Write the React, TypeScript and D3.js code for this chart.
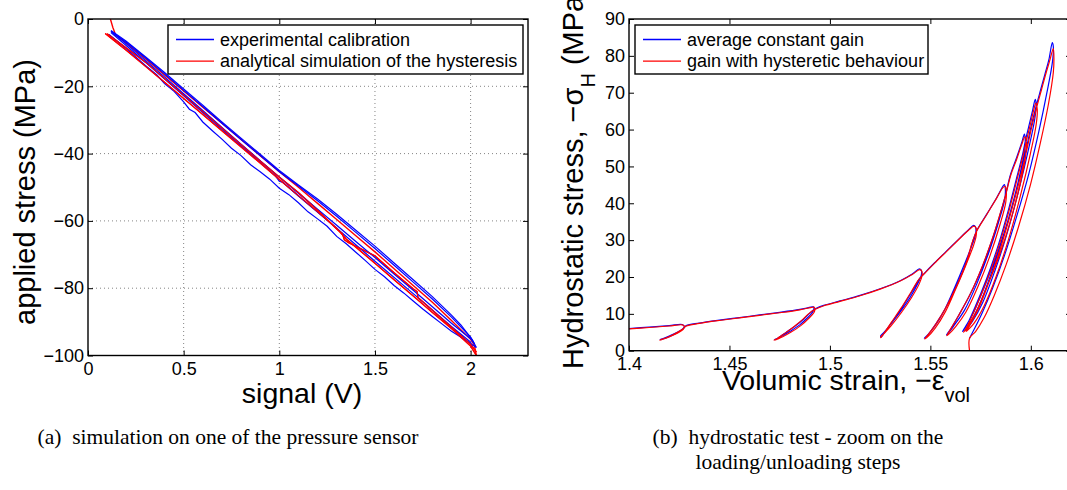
import * as d3 from 'd3';

import { useCallback } from 'react';

type Pt = [number, number];

// (a) pressure sensor: signal (V) against applied stress (MPa)
const signalTicks = [0, 0.5, 1, 1.5, 2];
const stressTicks = [0, -20, -40, -60, -80, -100];
const legendA = ['experimental calibration', 'analytical simulation of the hysteresis'];

const calibLoad1: Pt[] = [
  [0.11, -4.6], [0.2, -8.8], [0.3, -13.8], [0.36, -16.6], [0.4, -19.2], [0.45, -21.5], [0.5, -24.6],
  [0.53, -26.8], [0.56, -27.8], [0.6, -30.6], [0.65, -33.2], [0.7, -35.7], [0.75, -38.4], [0.8, -40.6],
  [0.85, -43.3], [0.9, -45.4], [0.95, -47.6], [1.0, -50.3], [1.05, -52.2], [1.1, -54.6], [1.15, -57.3],
  [1.2, -59.4], [1.25, -61.6], [1.3, -64.6], [1.35, -66.8], [1.4, -69.3], [1.45, -71.8], [1.5, -74.4],
  [1.55, -76.6], [1.6, -79.2], [1.65, -81.4], [1.7, -83.8], [1.75, -86.2], [1.8, -88.4], [1.85, -90.6],
  [1.9, -92.8], [1.95, -94.6], [2.0, -96.4], [2.03, -97.6],
];
const calibUnload1: Pt[] = [
  [2.03, -97.6], [2.01, -95.4], [1.95, -91.0], [1.9, -88.0], [1.8, -82.5], [1.7, -77.5], [1.6, -72.5],
  [1.5, -67.5], [1.4, -62.8], [1.3, -58.0], [1.2, -53.5], [1.1, -49.3], [1.0, -45.0], [0.9, -40.2],
  [0.8, -35.4], [0.7, -30.6], [0.6, -25.6], [0.5, -20.8], [0.4, -15.9], [0.3, -11.2], [0.2, -6.6], [0.12, -3.4],
];
const calibLoad2: Pt[] = [
  [0.12, -3.6], [0.2, -7.4], [0.3, -12.3], [0.4, -17.2], [0.5, -22.2], [0.6, -27.2], [0.7, -32.2],
  [0.8, -37.2], [0.9, -42.1], [1.0, -47.0], [1.1, -51.8], [1.2, -56.5], [1.3, -61.3], [1.4, -66.1],
  [1.5, -70.9], [1.6, -75.8], [1.7, -80.6], [1.8, -85.5], [1.9, -90.4], [2.0, -95.0], [2.02, -96.6],
];
const calibUnload2: Pt[] = [
  [2.02, -96.6], [2.0, -94.5], [1.9, -88.6], [1.8, -83.2], [1.7, -78.2], [1.6, -73.2], [1.5, -68.2],
  [1.4, -63.4], [1.3, -58.6], [1.2, -54.0], [1.1, -49.6], [1.0, -45.4], [0.9, -40.6], [0.8, -35.8],
  [0.7, -31.0], [0.6, -26.0], [0.5, -21.2], [0.4, -16.3], [0.3, -11.5], [0.2, -6.9], [0.12, -3.7],
];
const calibLoad3: Pt[] = [
  [0.12, -4.0], [0.3, -12.8], [0.5, -22.8], [0.7, -32.8], [0.9, -42.6], [0.98, -46.6], [1.0, -48.2],
  [1.02, -48.6], [1.1, -52.6], [1.3, -62.2], [1.5, -72.0], [1.7, -81.6], [1.9, -91.4], [2.0, -96.0],
  [2.005, -97.2], [2.01, -96.8],
];

const simLoad1: Pt[] = [
  [0.09, -4.3], [0.2, -9.3], [0.3, -14.0], [0.4, -18.8], [0.5, -23.6], [0.6, -28.4], [0.7, -33.2],
  [0.8, -38.0], [0.9, -42.8], [1.0, -47.7], [1.1, -52.5], [1.2, -57.3], [1.3, -62.2], [1.35, -65.4],
  [1.4, -67.8], [1.5, -72.6], [1.6, -77.5], [1.7, -82.3], [1.8, -87.2], [1.9, -92.0], [2.0, -97.2], [2.03, -100],
];
const simUnload1: Pt[] = [
  [2.03, -100], [2.02, -97.0], [2.0, -95.2], [1.95, -92.4], [1.9, -89.6], [1.8, -84.2], [1.7, -79.2],
  [1.6, -74.2], [1.5, -69.2], [1.4, -64.4], [1.3, -59.6], [1.2, -54.8], [1.1, -50.0], [1.0, -45.4],
  [0.9, -40.6], [0.8, -35.8], [0.7, -31.0], [0.6, -26.2], [0.5, -21.4], [0.4, -16.6], [0.3, -11.8],
  [0.2, -7.2], [0.145, -4.8], [0.13, -2.5], [0.117, 0],
];
const simLoad2: Pt[] = [
  [0.1, -4.4], [0.3, -12.8], [0.5, -22.6], [0.7, -32.4], [0.9, -42.2], [1.0, -47.0], [1.1, -51.6],
  [1.2, -56.8], [1.3, -62.4], [1.33, -63.8], [1.34, -65.6], [1.36, -66.4], [1.5, -70.4], [1.6, -75.4],
  [1.7, -80.2], [1.72, -81.0], [1.725, -82.8], [1.75, -84.0], [1.9, -91.6], [2.0, -96.6], [2.03, -99.0],
];

// (b) hydrostatic test: volumic strain against hydrostatic stress (MPa)
const strainTicks = [1.4, 1.45, 1.5, 1.55, 1.6];
const hydroTicks = [0, 10, 20, 30, 40, 50, 60, 70, 80, 90];
const legendB = ['average constant gain', 'gain with hysteretic behaviour'];

const constantGain: Pt[] = [
  [1.4, 6.0], [1.41, 6.4], [1.42, 6.8], [1.4265, 7.1], [1.4275, 6.6], [1.4268, 5.9], [1.424, 5.0],
  [1.42, 4.0], [1.417, 3.3], [1.4155, 3.0], [1.4165, 3.1], [1.42, 3.8], [1.424, 4.9], [1.427, 6.0], [1.4285, 6.8],
  [1.435, 7.5], [1.445, 8.3], [1.455, 9.0], [1.465, 9.7], [1.475, 10.4], [1.485, 11.2], [1.4905, 11.8],
  [1.4918, 11.9], [1.492, 11.2], [1.4915, 10.5], [1.489, 9.0], [1.485, 7.0], [1.48, 5.2], [1.476, 3.9],
  [1.473, 3.1], [1.4725, 3.0], [1.474, 3.4], [1.478, 4.9], [1.483, 6.8], [1.487, 8.6], [1.49, 10.2], [1.4925, 11.3],
  [1.497, 12.3], [1.505, 13.5], [1.515, 15.0], [1.525, 16.8], [1.535, 19.0], [1.541, 20.8], [1.5445, 22.2],
  [1.5455, 21.8], [1.5455, 20.5], [1.544, 18.5], [1.54, 14.5], [1.535, 10.5], [1.53, 7.0], [1.527, 5.0],
  [1.5252, 4.0], [1.5255, 3.7], [1.527, 4.8], [1.531, 7.8], [1.536, 11.8], [1.541, 16.2], [1.5445, 19.5], [1.547, 21.0],
  [1.552, 23.8], [1.558, 27.0], [1.564, 30.2], [1.569, 32.8], [1.5715, 34.0], [1.5725, 33.5], [1.5725, 31.5],
  [1.571, 29.0], [1.567, 23.5], [1.562, 17.0], [1.557, 11.0], [1.552, 6.5], [1.548, 3.9], [1.547, 3.4],
  [1.549, 4.5], [1.553, 7.5], [1.558, 12.0], [1.563, 17.5], [1.568, 24.0], [1.571, 29.5], [1.573, 32.5],
  [1.578, 37.0], [1.583, 41.5], [1.586, 44.5], [1.5868, 45.1], [1.5873, 44.0], [1.587, 41.0], [1.584, 35.0],
  [1.579, 26.5], [1.573, 18.0], [1.567, 11.0], [1.562, 7.0], [1.559, 4.8], [1.558, 4.3], [1.56, 5.8],
  [1.564, 9.5], [1.57, 15.5], [1.576, 23.0], [1.581, 30.5], [1.585, 37.5], [1.5875, 42.5],
  [1.59, 48.0], [1.593, 52.5], [1.5955, 56.5], [1.5968, 58.8], [1.5972, 57.5], [1.5968, 54.0], [1.594, 46.5],
  [1.589, 36.0], [1.583, 26.0], [1.577, 17.5], [1.572, 11.0], [1.568, 7.0], [1.566, 5.2], [1.568, 6.8],
  [1.572, 11.5], [1.578, 19.5], [1.584, 29.0], [1.589, 38.5], [1.593, 47.0], [1.596, 53.5], [1.5975, 57.5],
  [1.5995, 62.0], [1.601, 65.5], [1.6022, 68.2], [1.6026, 67.0], [1.602, 63.0], [1.599, 55.0], [1.594, 43.5],
  [1.588, 31.5], [1.582, 21.5], [1.576, 13.0], [1.571, 8.0], [1.5675, 5.5], [1.569, 6.8], [1.574, 12.0],
  [1.58, 20.5], [1.586, 30.5], [1.592, 42.0], [1.597, 53.0], [1.6, 60.5], [1.6025, 66.0],
  [1.605, 71.0], [1.607, 75.0], [1.609, 79.0], [1.6107, 83.6], [1.6112, 82.5], [1.6108, 78.5], [1.608, 70.0],
  [1.604, 59.5], [1.599, 48.0], [1.593, 36.5], [1.587, 26.0], [1.581, 17.0], [1.576, 10.5], [1.572, 6.0], [1.5695, 3.4],
];

const hystereticGain: Pt[] = [
  [1.4, 5.9], [1.41, 6.3], [1.42, 6.7], [1.4265, 7.0], [1.4276, 6.6], [1.427, 5.8], [1.4245, 4.9],
  [1.4205, 3.9], [1.4172, 3.2], [1.4153, 2.9], [1.4162, 3.0], [1.4195, 3.7], [1.4235, 4.8], [1.4268, 5.9], [1.4285, 6.7],
  [1.435, 7.4], [1.445, 8.2], [1.455, 8.9], [1.465, 9.6], [1.475, 10.3], [1.485, 11.1], [1.4905, 11.7],
  [1.4922, 11.8], [1.4925, 11.0], [1.492, 10.3], [1.4895, 8.8], [1.4855, 6.8], [1.4805, 5.0], [1.4765, 3.8],
  [1.4732, 3.0], [1.4722, 2.9], [1.4735, 3.2], [1.4775, 4.7], [1.4825, 6.7], [1.4865, 8.5], [1.4898, 10.2], [1.4925, 11.2],
  [1.497, 12.2], [1.505, 13.4], [1.515, 14.9], [1.525, 16.7], [1.535, 18.9], [1.541, 20.7], [1.5448, 22.0],
  [1.5458, 21.5], [1.5458, 20.2], [1.5445, 18.2], [1.5405, 14.3], [1.5355, 10.3], [1.5305, 6.8], [1.5272, 4.8],
  [1.5254, 3.8], [1.5253, 3.5], [1.5268, 4.6], [1.5305, 7.6], [1.5355, 11.6], [1.5405, 16.0], [1.5442, 19.3], [1.547, 20.9],
  [1.552, 23.7], [1.558, 26.9], [1.564, 30.1], [1.569, 32.7], [1.5718, 33.8], [1.5728, 33.2], [1.5728, 31.2],
  [1.5715, 28.6], [1.5675, 23.0], [1.5625, 16.6], [1.5575, 10.6], [1.5525, 6.2], [1.5485, 3.7], [1.5472, 3.2],
  [1.5488, 4.3], [1.5528, 7.3], [1.5578, 11.8], [1.5628, 17.3], [1.5678, 23.8], [1.5708, 29.3], [1.573, 32.4],
  [1.578, 36.9], [1.583, 41.4], [1.586, 44.2], [1.5872, 44.6], [1.5878, 43.2], [1.5875, 40.2], [1.5847, 34.3],
  [1.5797, 25.8], [1.5737, 17.4], [1.5677, 10.5], [1.5627, 6.6], [1.5592, 4.5], [1.5582, 4.1], [1.5598, 5.6],
  [1.5638, 9.3], [1.5698, 15.3], [1.5758, 22.8], [1.5808, 30.3], [1.5848, 37.3], [1.5875, 42.3],
  [1.59, 47.6], [1.593, 52.0], [1.5955, 56.0], [1.597, 58.0], [1.5978, 56.5], [1.5975, 53.0], [1.5948, 45.5],
  [1.5898, 35.0], [1.5838, 25.0], [1.5778, 16.8], [1.5728, 10.5], [1.5688, 6.7], [1.5665, 5.0], [1.5683, 6.6],
  [1.5723, 11.3], [1.5783, 19.3], [1.5843, 28.8], [1.5893, 38.3], [1.5933, 46.8], [1.5963, 53.3], [1.5978, 57.0],
  [1.5998, 61.5], [1.6013, 65.0], [1.6025, 67.2], [1.6032, 65.5], [1.6027, 61.5], [1.5998, 53.5], [1.5948, 42.0],
  [1.5888, 30.0], [1.5828, 20.2], [1.5768, 12.2], [1.5718, 7.5], [1.5678, 5.2], [1.5693, 6.6], [1.5743, 11.8],
  [1.5803, 20.3], [1.5863, 30.3], [1.5923, 41.8], [1.5973, 52.8], [1.6003, 60.3], [1.6028, 65.8],
  [1.6053, 70.8], [1.6073, 74.8], [1.6093, 78.5], [1.6112, 82.0], [1.6115, 79.0], [1.6112, 75.5], [1.6088, 67.0],
  [1.6048, 56.5], [1.5998, 45.0], [1.5938, 33.5], [1.5878, 23.5], [1.5818, 15.0], [1.5768, 9.0], [1.5725, 5.2],
  [1.5695, 3.4], [1.5695, 0],
];

const captionA = '(a)  simulation on one of the pressure sensor';
const captionB = ['(b)  hydrostatic test - zoom on the', 'loading/unloading steps'];

const SANS = '"Liberation Sans", Arial, Helvetica, sans-serif';
const SERIF = '"Liberation Serif", "Times New Roman", serif';
const BLUE = '#0000ff';
const RED = '#ff0000';
const minus = (v: number) => (v < 0 ? '\u2212' + Math.abs(v) : String(v));

type Sel = d3.Selection<SVGGElement, unknown, null, undefined>;

// MATLAB-like box with inward ticks on all four sides
const drawFrame = (
  g: Sel,
  x: d3.ScaleLinear<number, number>,
  y: d3.ScaleLinear<number, number>,
  xTicks: number[],
  yTicks: number[],
  xFmt: (v: number) => string,
  yFmt: (v: number) => string,
) => {
  const [x0, x1] = x.range();
  const [y0, y1] = y.range();
  const style = (a: Sel) => {
    a.select('.domain').remove();
    a.selectAll('line').attr('stroke', '#000').attr('stroke-width', 1);
    a.selectAll('text').attr('fill', '#000');
    a.attr('font-family', SANS).attr('font-size', 18);
  };
  g.append('g')
    .attr('transform', `translate(0,${y0})`)
    .call(d3.axisBottom(x).tickValues(xTicks).tickSize(-5).tickSizeOuter(0).tickPadding(7).tickFormat((d) => xFmt(+d)))
    .call(style);
  g.append('g')
    .attr('transform', `translate(0,${y1})`)
    .call(d3.axisTop(x).tickValues(xTicks).tickSize(-5).tickSizeOuter(0).tickFormat(() => ''))
    .call(style);
  g.append('g')
    .attr('transform', `translate(${x0},0)`)
    .call(d3.axisLeft(y).tickValues(yTicks).tickSize(-5).tickSizeOuter(0).tickPadding(4).tickFormat((d) => yFmt(+d)))
    .call(style);
  g.append('g')
    .attr('transform', `translate(${x1},0)`)
    .call(d3.axisRight(y).tickValues(yTicks).tickSize(-5).tickSizeOuter(0).tickFormat(() => ''))
    .call(style);
  g.append('rect')
    .attr('x', x0)
    .attr('y', y1)
    .attr('width', x1 - x0)
    .attr('height', y0 - y1)
    .attr('fill', 'none')
    .attr('stroke', '#000')
    .attr('stroke-width', 1.4);
};

const drawLegend = (g: Sel, x: number, y: number, w: number, labels: string[]) => {
  const lg = g.append('g').attr('transform', `translate(${x},${y})`);
  lg.append('rect').attr('width', w).attr('height', 49).attr('fill', '#fff').attr('stroke', '#000').attr('stroke-width', 1.4);
  labels.forEach((label, i) => {
    const cy = 14.5 + i * 21.7;
    lg.append('line')
      .attr('x1', 8)
      .attr('x2', 46)
      .attr('y1', cy)
      .attr('y2', cy)
      .attr('stroke', i === 0 ? BLUE : RED)
      .attr('stroke-width', 1.3);
    lg.append('text')
      .attr('x', 52)
      .attr('y', cy + 6)
      .attr('font-family', SANS)
      .attr('font-size', 18)
      .attr('fill', '#000')
      .text(label);
  });
};

const App = () => {
  const draw = useCallback((ref: SVGSVGElement | null) => {
    if (!ref) return;
    const svg = d3.select(ref);
    svg.selectAll('*').remove();

    // ---- panel (a)
    const xA = d3.scaleLinear().domain([0, 2.3]).range([88, 528]);
    const yA = d3.scaleLinear().domain([-100, 0]).range([355.5, 19]);
    const gA = svg.append('g') as unknown as Sel;

    const grid = gA.append('g').attr('stroke', '#777').attr('stroke-width', 0.9).attr('stroke-dasharray', '1 3');
    signalTicks
      .filter((t) => t > 0)
      .forEach((t) => grid.append('line').attr('x1', xA(t)).attr('x2', xA(t)).attr('y1', yA(0)).attr('y2', yA(-100)));
    stressTicks
      .filter((t) => t < 0 && t > -100)
      .forEach((t) => grid.append('line').attr('x1', xA(0)).attr('x2', xA(2.3)).attr('y1', yA(t)).attr('y2', yA(t)));

    const lineA = d3
      .line<Pt>()
      .x((d) => xA(d[0]))
      .y((d) => yA(d[1]));
    [simLoad1, simUnload1, simLoad2].forEach((c) =>
      gA.append('path').attr('d', lineA(c)).attr('fill', 'none').attr('stroke', RED).attr('stroke-width', 1.4),
    );
    [calibLoad1, calibUnload1, calibLoad2, calibUnload2, calibLoad3].forEach((c) =>
      gA.append('path').attr('d', lineA(c)).attr('fill', 'none').attr('stroke', BLUE).attr('stroke-width', 1.2),
    );
    // simulation drawn again thinly so both colours show through the band
    [simLoad1, simLoad2].forEach((c) =>
      gA.append('path').attr('d', lineA(c)).attr('fill', 'none').attr('stroke', RED).attr('stroke-width', 1.1),
    );

    drawFrame(gA, xA, yA, signalTicks, stressTicks, (v) => String(v), minus);
    drawLegend(gA, 168, 25, 355, legendA);

    gA.append('text')
      .attr('x', 302)
      .attr('y', 403)
      .attr('text-anchor', 'middle')
      .attr('font-family', SANS)
      .attr('font-size', 28.5)
      .text('signal (V)');
    gA.append('text')
      .attr('transform', 'translate(35,192) rotate(-90)')
      .attr('text-anchor', 'middle')
      .attr('font-family', SANS)
      .attr('font-size', 29)
      .text('applied stress (MPa)');

    // ---- panel (b)
    const xB = d3.scaleLinear().domain([1.4, 1.62]).range([629, 1071]);
    const yB = d3.scaleLinear().domain([0, 90]).range([350.7, 19]);
    const gB = svg.append('g') as unknown as Sel;

    const lineB = d3
      .line<Pt>()
      .x((d) => xB(d[0]))
      .y((d) => yB(d[1]))
      .curve(d3.curveCatmullRom.alpha(0.5));
    gB.append('path').attr('d', lineB(constantGain)).attr('fill', 'none').attr('stroke', BLUE).attr('stroke-width', 1.2);
    gB.append('path').attr('d', lineB(hystereticGain)).attr('fill', 'none').attr('stroke', RED).attr('stroke-width', 1.2);

    drawFrame(gB, xB, yB, strainTicks, hydroTicks, (v) => String(v), (v) => String(v));
    drawLegend(gB, 635, 25, 293, legendB);

    const xl = gB
      .append('text')
      .attr('x', 846)
      .attr('y', 390)
      .attr('text-anchor', 'middle')
      .attr('font-family', SANS)
      .attr('font-size', 28.5);
    xl.append('tspan').text('Volumic strain, \u2212\u03b5');
    xl.append('tspan').attr('dy', 12).attr('font-size', 20).text('vol');

    const yl = gB
      .append('text')
      .attr('transform', 'translate(583,369) rotate(-90)')
      .attr('font-family', SANS)
      .attr('font-size', 29);
    yl.append('tspan').text('Hydrostatic stress, \u2212\u03c3');
    yl.append('tspan').attr('dy', 12).attr('font-size', 20).text('H');
    yl.append('tspan').attr('dy', -12).text(' (MPa)');

    // ---- captions
    const cap = svg.append('g').attr('font-family', SERIF).attr('font-size', 21.5).attr('fill', '#000');
    cap.append('text').attr('x', 228).attr('y', 444).attr('text-anchor', 'middle').attr('xml:space', 'preserve').text(captionA);
    captionB.forEach((t, i) =>
      cap
        .append('text')
        .attr('x', 798)
        .attr('y', 444 + i * 25)
        .attr('text-anchor', 'middle')
        .attr('xml:space', 'preserve')
        .text(t),
    );
  }, []);

  return (
    <div>
      <style>{`body { margin: 0; background: #fff; }`}</style>
      <svg width={1067} height={490} ref={draw} style={{ display: 'block', background: '#fff' }}></svg>
    </div>
  );
};

export default App;
